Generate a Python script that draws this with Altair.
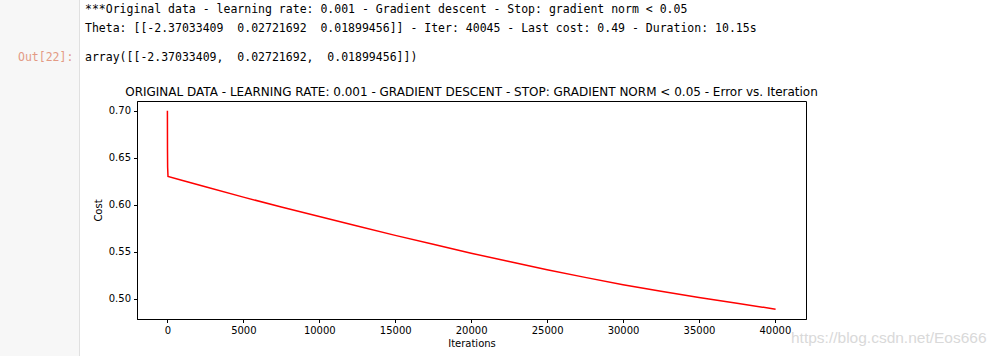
import altair as alt
import pandas as pd

# ---- data ----
iterations = [0, 5, 15, 40, 1000, 2500, 5000, 7500, 10000, 12500, 15000,
              17500, 20000, 22500, 25000, 27500, 30000, 32500, 35000, 37500, 40045]
cost = [0.700, 0.660, 0.640, 0.6302, 0.6258, 0.6192, 0.6082, 0.5977, 0.5875,
        0.5775, 0.5675, 0.5580, 0.5485, 0.5396, 0.5310, 0.5228, 0.5150, 0.5080,
        0.5015, 0.4952, 0.4890]
x_ticks = [0, 5000, 10000, 15000, 20000, 25000, 30000, 35000, 40000]
y_ticks = [0.50, 0.55, 0.60, 0.65, 0.70]

NB = "\u00a0"
line1 = "***Original data - learning rate: 0.001 - Gradient descent - Stop: gradient norm < 0.05"
line2 = ("Theta: [[-2.37033409" + NB * 2 + "0.02721692" + NB * 2 + "0.01899456]] - Iter: 40045"
         " - Last cost: 0.49 - Duration: 10.15s")
out_prompt = "Out[22]:"
out_text = "array([[-2.37033409," + NB * 2 + "0.02721692," + NB * 2 + "0.01899456]])"
watermark = "https://blog.csdn.net/Eos666"
title = ("ORIGINAL DATA - LEARNING RATE: 0.001 - GRADIENT DESCENT - STOP: "
         "GRADIENT NORM < 0.05 - Error vs. Iteration")

df = pd.DataFrame({"Iterations": iterations, "Cost": cost})

W, H = 669, 218
L, T = 137, 101

line = alt.Chart(df).mark_line(color="#ff0000", strokeWidth=1.5).encode(
    x=alt.X("Iterations:Q",
            scale=alt.Scale(domain=[-2002, 42047], nice=False, zero=False),
            axis=alt.Axis(values=x_ticks, format="d", title="Iterations")),
    y=alt.Y("Cost:Q",
            scale=alt.Scale(domain=[0.4785, 0.7105], nice=False, zero=False),
            axis=alt.Axis(values=y_ticks, format=".2f", title="Cost")),
)

one = pd.DataFrame({"a": [0]})

gutter = alt.Chart(one).mark_rect(color="#f7f7f7").encode(
    x=alt.value(-L), x2=alt.value(79 - L), y=alt.value(-T), y2=alt.value(356 - T))
gutter_line = alt.Chart(one).mark_rule(color="#e0e0e0", strokeWidth=1).encode(
    x=alt.value(79.5 - L), y=alt.value(-T), y2=alt.value(356 - T))


def txt(s, x, y, color="#000000", size=11.5, font="DejaVu Sans Mono", align="left"):
    return alt.Chart(pd.DataFrame({"t": [s]})).mark_text(
        align=align, baseline="middle", font=font, fontSize=size, color=color
    ).encode(text="t:N", x=alt.value(x), y=alt.value(y))


t1 = txt(line1, 85 - L, 10 - T)
t2 = txt(line2, 85 - L, 29 - T)
t3 = txt(out_prompt, 18 - L, 58 - T, color="#e39a84")
t4 = txt(out_text, 85 - L, 58 - T)
ttl = txt(title, W / 2, 91.5 - T, size=12, font="DejaVu Sans", align="center")
wm = txt(watermark, 791 - L, 338 - T, color="#d9d9d9", size=15.5, font="Liberation Sans")

chart = alt.layer(gutter, gutter_line, line, t1, t2, t3, t4, ttl, wm).properties(
    width=W, height=H,
    autosize=alt.AutoSizeParams(type="none"),
    padding={"left": L, "top": T, "right": 999 - L - W, "bottom": 356 - T - H},
).configure_view(stroke="#000000", strokeWidth=1).configure_axis(
    grid=False, domainColor="#000000", tickColor="#000000", tickSize=3.5,
    labelFont="DejaVu Sans", labelFontSize=10, labelColor="#000000", labelPadding=3,
    titleFont="DejaVu Sans", titleFontSize=10, titleFontWeight="normal", titleColor="#000000",
).configure_axisX(titlePadding=3).configure_axisY(titlePadding=5)

chart.save("out.html", embed_options={"renderer": "svg", "actions": False})
